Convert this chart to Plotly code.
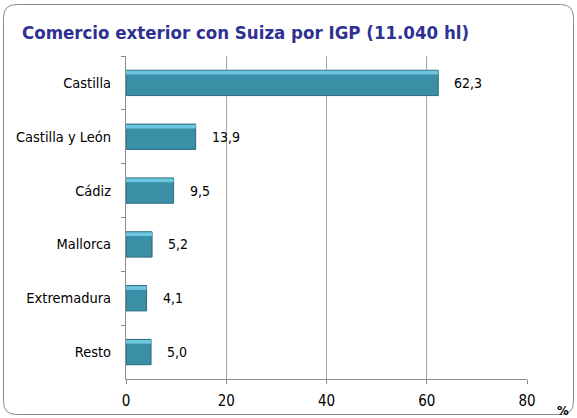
import plotly.graph_objects as go

categories = ["Castilla", "Castilla y León", "Cádiz", "Mallorca", "Extremadura", "Resto"]
values = [62.3, 13.9, 9.5, 5.2, 4.1, 5.0]
value_labels = ["62,3", "13,9", "9,5", "5,2", "4,1", "5,0"]
x_ticks = [0, 20, 40, 60, 80]
title_text = "Comercio exterior con Suiza por IGP (11.040 hl)"

W, H = 577, 418
ML, MR, MT, MB = 126, 50, 56, 39
PW, PH = W - ML - MR, H - MT - MB

def px(xp):
    return (xp - ML) / PW

def py(yp):
    return (H - MB - yp) / PH

FONT = "DejaVu Sans Condensed, DejaVu Sans, sans-serif"
BAR_W = 0.47

fig = go.Figure()
fig.add_trace(go.Bar(
    x=values, y=categories, orientation="h", width=BAR_W,
    marker=dict(color="#3A8FA7", line=dict(color="#2B6A7D", width=1)),
    hoverinfo="skip", showlegend=False,
))
fig.add_trace(go.Bar(
    x=values, y=categories, orientation="h", width=0.07, offset=-BAR_W / 2 + 0.01,
    marker=dict(color="#6CC6DE", line=dict(width=0)),
    hoverinfo="skip", showlegend=False,
))

for v, c, t in zip(values, categories, value_labels):
    fig.add_annotation(x=v, y=c, text=t, showarrow=False, xanchor="left",
                       xshift=14, font=dict(family=FONT, size=14, color="#000000"))

# rounded frame
x0, x1, y0, y1, r = 3.5, 573.5, 4.5, 414.5, 13
path = (
    f"M {px(x0 + r)},{py(y0)} L {px(x1 - r)},{py(y0)} "
    f"Q {px(x1)},{py(y0)} {px(x1)},{py(y0 + r)} "
    f"L {px(x1)},{py(y1 - r)} Q {px(x1)},{py(y1)} {px(x1 - r)},{py(y1)} "
    f"L {px(x0 + r)},{py(y1)} Q {px(x0)},{py(y1)} {px(x0)},{py(y1 - r)} "
    f"L {px(x0)},{py(y0 + r)} Q {px(x0)},{py(y0)} {px(x0 + r)},{py(y0)} Z"
)
fig.add_shape(type="path", path=path, xref="paper", yref="paper",
              line=dict(color="#8A8A8A", width=1), layer="below")

fig.add_annotation(x=px(563), y=py(410), xref="paper", yref="paper", text="<b>%</b>",
                   showarrow=False, xanchor="center", yanchor="middle",
                   font=dict(family=FONT, size=13, color="#000000"))

fig.add_annotation(x=px(20), y=py(32), xref="paper", yref="paper", text=f"<b>{title_text}</b>",
                   showarrow=False, xanchor="left", yanchor="middle",
                   font=dict(family=FONT, size=18.5, color="#2E3192"))

fig.update_layout(
    width=W, height=H, margin=dict(l=ML, r=MR, t=MT, b=MB, autoexpand=False),
    paper_bgcolor="white", plot_bgcolor="white", barmode="overlay",
    font=dict(family=FONT, size=13, color="#000000"),
    xaxis=dict(range=[0, 80], tickvals=x_ticks, ticktext=[str(t) for t in x_ticks],
               showgrid=True, gridcolor="#A6A6A6", gridwidth=1, zeroline=False,
               showline=True, linecolor="#8C8C8C", linewidth=1, automargin=False,
               ticks="outside", ticklen=4, tickcolor="#8C8C8C",
               ticklabelstandoff=4, tickfont=dict(family=FONT, size=15)),
    yaxis=dict(categoryorder="array", categoryarray=categories, autorange="reversed",
               showgrid=False, zeroline=False, showline=True, linecolor="#8C8C8C", linewidth=1,
               automargin=False,
               ticks="outside", ticklen=4, tickcolor="#8C8C8C", tickson="boundaries",
               ticklabelstandoff=11, tickfont=dict(family=FONT, size=14.5)),
)

fig.write_html("out.html", config={"displayModeBar": False},
               post_script="document.body.style.margin='0';document.body.style.overflow='hidden';")
